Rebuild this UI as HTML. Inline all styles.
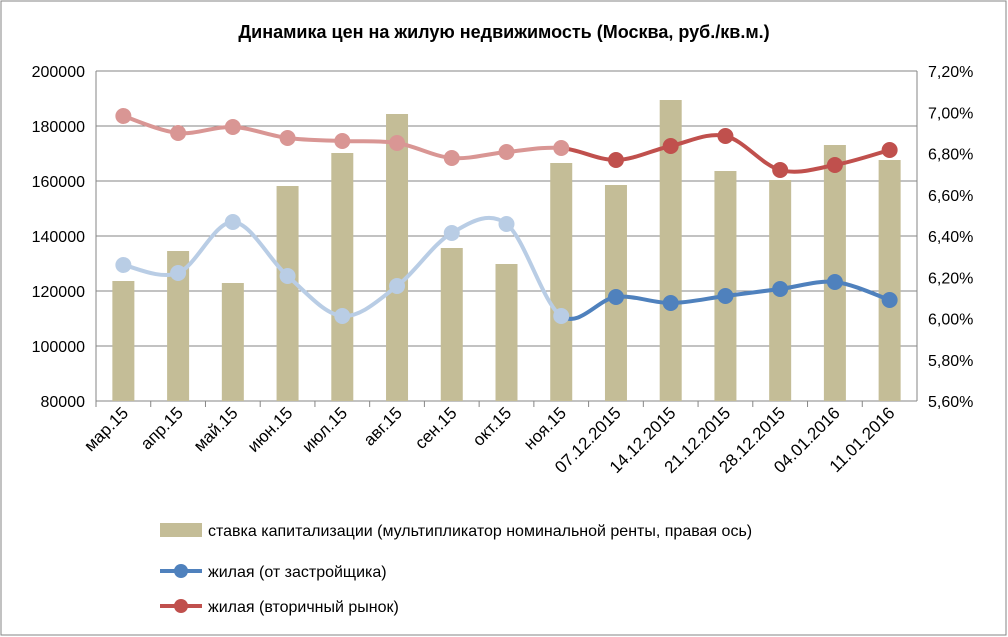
<!DOCTYPE html>
<html><head><meta charset="utf-8"><style>
body{margin:0;background:#fff}
svg{display:block;font-family:"Liberation Sans",sans-serif}
</style></head><body>
<svg id="s" width="1008" height="637" xmlns="http://www.w3.org/2000/svg">
<rect x="1" y="1" width="1005" height="634" fill="#fff" stroke="#868686"/>
<text x="504" y="38" text-anchor="middle" font-size="18" font-weight="bold">Динамика цен на жилую недвижимость (Москва, руб./кв.м.)</text>
<g id="g"></g>
<rect x="160" y="523" width="42" height="14" fill="#c4bd97"/>
<text x="208" y="536" font-size="16">ставка капитализации (мультипликатор номинальной ренты, правая ось)</text>
<line x1="160" y1="571" x2="202" y2="571" stroke="#4f81bd" stroke-width="4"/>
<circle cx="181" cy="571" r="7" fill="#4f81bd"/>
<text x="208" y="577" font-size="16">жилая (от застройщика)</text>
<line x1="160" y1="606" x2="202" y2="606" stroke="#c0504d" stroke-width="4"/>
<circle cx="181" cy="606" r="7" fill="#c0504d"/>
<text x="208" y="612" font-size="16">жилая (вторичный рынок)</text>
</svg>
<script>
var g=document.getElementById('g'),h='';
var L=96,R=917,T=71,B=401,n=15,w=(R-L)/n;
for(var i=0;i<=6;i++){var y=T+i*(B-T)/6;
h+='<line x1="'+L+'" y1="'+y+'" x2="'+R+'" y2="'+y+'" stroke="#868686"/>';
h+='<text x="85" y="'+(y+6)+'" text-anchor="end" font-size="16">'+(200000-i*20000)+'</text>';}
for(var i=0;i<=8;i++){var y=T+i*(B-T)/8;
h+='<text x="928" y="'+(y+6)+'" font-size="16">'+(7.2-i*0.2).toFixed(2).replace('.',',')+'%</text>';}
h+='<line x1="'+L+'" y1="'+T+'" x2="'+L+'" y2="'+B+'" stroke="#868686"/><line x1="'+R+'" y1="'+T+'" x2="'+R+'" y2="'+B+'" stroke="#868686"/>';
var labs=['мар.15','апр.15','май.15','июн.15','июл.15','авг.15','сен.15','окт.15','ноя.15','07.12.2015','14.12.2015','21.12.2015','28.12.2015','04.01.2016','11.01.2016'];
var bars=[281,251,283,186,153,114,248,264,163,185,100,171,180,145,160];
var red=[116,133,127,138,141,143,158,152,148,160,146,136,170,165,150];
var blue=[265,273,222,276,316,286,233,224,316,297,303,296,289,282,300];
var X=[];
for(var i=0;i<n;i++){X.push(L+w*(i+.5));
h+='<line x1="'+(L+w*i)+'" y1="'+B+'" x2="'+(L+w*i)+'" y2="'+(B+6)+'" stroke="#868686"/>';
h+='<rect x="'+(X[i]-11)+'" y="'+bars[i]+'" width="22" height="'+(B-bars[i])+'" fill="#c4bd97"/>';
h+='<text transform="translate('+(X[i]+6)+',414) rotate(-45)" text-anchor="end" font-size="17">'+labs[i]+'</text>';}
function seg(Y,a,b){var d='M'+X[a]+','+Y[a];
for(var i=a;i<b;i++){var p0=Math.max(i-1,0),p3=Math.min(i+2,n-1);
var c1x=X[i]+(X[i+1]-X[p0])/6,c1y=Y[i]+(Y[i+1]-Y[p0])/6,c2x=X[i+1]-(X[p3]-X[i])/6,c2y=Y[i+1]-(Y[p3]-Y[i])/6;
d+=' C'+c1x+','+c1y+' '+c2x+','+c2y+' '+X[i+1]+','+Y[i+1];}return d;}
function series(Y,pale,dark){
h+='<path d="'+seg(Y,0,8)+'" fill="none" stroke="'+pale+'" stroke-width="4"/>';
h+='<path d="'+seg(Y,8,14)+'" fill="none" stroke="'+dark+'" stroke-width="4"/>';
for(var i=0;i<n;i++)h+='<circle cx="'+X[i]+'" cy="'+Y[i]+'" r="8" fill="'+(i<9?pale:dark)+'"/>';}
series(red,'#d99694','#c0504d');series(blue,'#b9cde5','#4f81bd');
g.innerHTML=h;
</script>
</body></html>
